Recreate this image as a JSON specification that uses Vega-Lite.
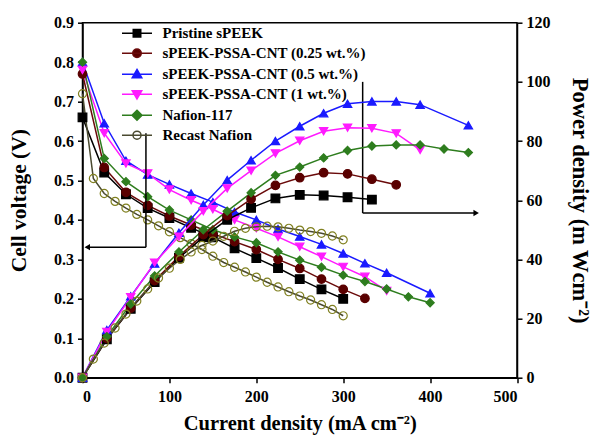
{
  "$schema": "https://vega.github.io/schema/vega-lite/v6.json",
  "autosize": {"type": "none"},
  "padding": {"left": 82.5, "top": 22.7, "right": 77, "bottom": 59.3},
  "width": 434.5,
  "height": 355,
  "background": "white",
  "config": {
    "view": {"stroke": "black", "strokeWidth": 1.5},
    "axis": {
      "grid": false, "domainColor": "black", "domainWidth": 1.5, "tickColor": "black", "tickWidth": 1.5, "tickSize": 5,
      "labelFont": "Liberation Serif", "labelFontWeight": "bold", "labelFontSize": 16, "labelColor": "black",
      "titleFont": "Liberation Serif", "titleFontWeight": "bold", "titleFontSize": 20.5, "titleColor": "black"
    },
    "legend": {"labelFont": "Liberation Serif"}
  },
  "datasets": {
    "curves": [
      {"s":"Pristine sPEEK","t":"V","x":0,"y":0.66},{"s":"Pristine sPEEK","t":"V","x":25,"y":0.52},{"s":"Pristine sPEEK","t":"V","x":50,"y":0.465},{"s":"Pristine sPEEK","t":"V","x":75,"y":0.43},{"s":"Pristine sPEEK","t":"V","x":100,"y":0.405},{"s":"Pristine sPEEK","t":"V","x":125,"y":0.38},{"s":"Pristine sPEEK","t":"V","x":150,"y":0.356},{"s":"Pristine sPEEK","t":"V","x":175,"y":0.328},{"s":"Pristine sPEEK","t":"V","x":200,"y":0.303},{"s":"Pristine sPEEK","t":"V","x":225,"y":0.278},{"s":"Pristine sPEEK","t":"V","x":250,"y":0.25},{"s":"Pristine sPEEK","t":"V","x":275,"y":0.224},{"s":"Pristine sPEEK","t":"V","x":300,"y":0.2},
      {"s":"Pristine sPEEK","t":"P","x":0,"y":0},{"s":"Pristine sPEEK","t":"P","x":28,"y":13},{"s":"Pristine sPEEK","t":"P","x":55.5,"y":23.3},{"s":"Pristine sPEEK","t":"P","x":83,"y":32.3},{"s":"Pristine sPEEK","t":"P","x":111,"y":40.5},{"s":"Pristine sPEEK","t":"P","x":139,"y":47.5},{"s":"Pristine sPEEK","t":"P","x":166.5,"y":53.4},{"s":"Pristine sPEEK","t":"P","x":194,"y":57.4},{"s":"Pristine sPEEK","t":"P","x":222,"y":60.6},{"s":"Pristine sPEEK","t":"P","x":250,"y":61.8},{"s":"Pristine sPEEK","t":"P","x":277.5,"y":61.6},{"s":"Pristine sPEEK","t":"P","x":305,"y":61},{"s":"Pristine sPEEK","t":"P","x":333,"y":60.2},

      {"s":"sPEEK-PSSA-CNT (0.25 wt.%)","t":"V","x":0,"y":0.77},{"s":"sPEEK-PSSA-CNT (0.25 wt.%)","t":"V","x":25,"y":0.533},{"s":"sPEEK-PSSA-CNT (0.25 wt.%)","t":"V","x":50,"y":0.47},{"s":"sPEEK-PSSA-CNT (0.25 wt.%)","t":"V","x":75,"y":0.437},{"s":"sPEEK-PSSA-CNT (0.25 wt.%)","t":"V","x":100,"y":0.41},{"s":"sPEEK-PSSA-CNT (0.25 wt.%)","t":"V","x":125,"y":0.387},{"s":"sPEEK-PSSA-CNT (0.25 wt.%)","t":"V","x":150,"y":0.365},{"s":"sPEEK-PSSA-CNT (0.25 wt.%)","t":"V","x":175,"y":0.345},{"s":"sPEEK-PSSA-CNT (0.25 wt.%)","t":"V","x":200,"y":0.325},{"s":"sPEEK-PSSA-CNT (0.25 wt.%)","t":"V","x":225,"y":0.3},{"s":"sPEEK-PSSA-CNT (0.25 wt.%)","t":"V","x":250,"y":0.277},{"s":"sPEEK-PSSA-CNT (0.25 wt.%)","t":"V","x":275,"y":0.25},{"s":"sPEEK-PSSA-CNT (0.25 wt.%)","t":"V","x":300,"y":0.224},{"s":"sPEEK-PSSA-CNT (0.25 wt.%)","t":"V","x":325,"y":0.201},
      {"s":"sPEEK-PSSA-CNT (0.25 wt.%)","t":"P","x":0,"y":0},{"s":"sPEEK-PSSA-CNT (0.25 wt.%)","t":"P","x":28,"y":13.3},{"s":"sPEEK-PSSA-CNT (0.25 wt.%)","t":"P","x":55.5,"y":23.5},{"s":"sPEEK-PSSA-CNT (0.25 wt.%)","t":"P","x":83,"y":32.8},{"s":"sPEEK-PSSA-CNT (0.25 wt.%)","t":"P","x":111,"y":41},{"s":"sPEEK-PSSA-CNT (0.25 wt.%)","t":"P","x":139,"y":48.4},{"s":"sPEEK-PSSA-CNT (0.25 wt.%)","t":"P","x":166.5,"y":54.8},{"s":"sPEEK-PSSA-CNT (0.25 wt.%)","t":"P","x":194,"y":60.4},{"s":"sPEEK-PSSA-CNT (0.25 wt.%)","t":"P","x":222,"y":65},{"s":"sPEEK-PSSA-CNT (0.25 wt.%)","t":"P","x":250,"y":67.6},{"s":"sPEEK-PSSA-CNT (0.25 wt.%)","t":"P","x":277.5,"y":69.3},{"s":"sPEEK-PSSA-CNT (0.25 wt.%)","t":"P","x":305,"y":68.9},{"s":"sPEEK-PSSA-CNT (0.25 wt.%)","t":"P","x":333,"y":67.1},{"s":"sPEEK-PSSA-CNT (0.25 wt.%)","t":"P","x":361,"y":65.2},

      {"s":"sPEEK-PSSA-CNT (0.5 wt.%)","t":"V","x":0,"y":0.8},{"s":"sPEEK-PSSA-CNT (0.5 wt.%)","t":"V","x":25,"y":0.645},{"s":"sPEEK-PSSA-CNT (0.5 wt.%)","t":"V","x":50,"y":0.55},{"s":"sPEEK-PSSA-CNT (0.5 wt.%)","t":"V","x":75,"y":0.515},{"s":"sPEEK-PSSA-CNT (0.5 wt.%)","t":"V","x":100,"y":0.49},{"s":"sPEEK-PSSA-CNT (0.5 wt.%)","t":"V","x":125,"y":0.467},{"s":"sPEEK-PSSA-CNT (0.5 wt.%)","t":"V","x":150,"y":0.445},{"s":"sPEEK-PSSA-CNT (0.5 wt.%)","t":"V","x":175,"y":0.42},{"s":"sPEEK-PSSA-CNT (0.5 wt.%)","t":"V","x":200,"y":0.4},{"s":"sPEEK-PSSA-CNT (0.5 wt.%)","t":"V","x":225,"y":0.377},{"s":"sPEEK-PSSA-CNT (0.5 wt.%)","t":"V","x":250,"y":0.358},{"s":"sPEEK-PSSA-CNT (0.5 wt.%)","t":"V","x":275,"y":0.338},{"s":"sPEEK-PSSA-CNT (0.5 wt.%)","t":"V","x":300,"y":0.315},{"s":"sPEEK-PSSA-CNT (0.5 wt.%)","t":"V","x":325,"y":0.29},{"s":"sPEEK-PSSA-CNT (0.5 wt.%)","t":"V","x":350,"y":0.266},{"s":"sPEEK-PSSA-CNT (0.5 wt.%)","t":"V","x":400,"y":0.214},
      {"s":"sPEEK-PSSA-CNT (0.5 wt.%)","t":"P","x":0,"y":0},{"s":"sPEEK-PSSA-CNT (0.5 wt.%)","t":"P","x":28,"y":16.1},{"s":"sPEEK-PSSA-CNT (0.5 wt.%)","t":"P","x":55.5,"y":27.5},{"s":"sPEEK-PSSA-CNT (0.5 wt.%)","t":"P","x":83,"y":38.6},{"s":"sPEEK-PSSA-CNT (0.5 wt.%)","t":"P","x":111,"y":49},{"s":"sPEEK-PSSA-CNT (0.5 wt.%)","t":"P","x":139,"y":58.4},{"s":"sPEEK-PSSA-CNT (0.5 wt.%)","t":"P","x":166.5,"y":66.8},{"s":"sPEEK-PSSA-CNT (0.5 wt.%)","t":"P","x":194,"y":73.5},{"s":"sPEEK-PSSA-CNT (0.5 wt.%)","t":"P","x":222,"y":80},{"s":"sPEEK-PSSA-CNT (0.5 wt.%)","t":"P","x":250,"y":85},{"s":"sPEEK-PSSA-CNT (0.5 wt.%)","t":"P","x":277.5,"y":89.4},{"s":"sPEEK-PSSA-CNT (0.5 wt.%)","t":"P","x":305,"y":92.6},{"s":"sPEEK-PSSA-CNT (0.5 wt.%)","t":"P","x":333,"y":93.4},{"s":"sPEEK-PSSA-CNT (0.5 wt.%)","t":"P","x":361,"y":93.4},{"s":"sPEEK-PSSA-CNT (0.5 wt.%)","t":"P","x":388.5,"y":92.3},{"s":"sPEEK-PSSA-CNT (0.5 wt.%)","t":"P","x":444,"y":85.3},

      {"s":"sPEEK-PSSA-CNT (1 wt.%)","t":"V","x":0,"y":0.78},{"s":"sPEEK-PSSA-CNT (1 wt.%)","t":"V","x":25,"y":0.62},{"s":"sPEEK-PSSA-CNT (1 wt.%)","t":"V","x":50,"y":0.543},{"s":"sPEEK-PSSA-CNT (1 wt.%)","t":"V","x":75,"y":0.518},{"s":"sPEEK-PSSA-CNT (1 wt.%)","t":"V","x":100,"y":0.477},{"s":"sPEEK-PSSA-CNT (1 wt.%)","t":"V","x":125,"y":0.45},{"s":"sPEEK-PSSA-CNT (1 wt.%)","t":"V","x":150,"y":0.427},{"s":"sPEEK-PSSA-CNT (1 wt.%)","t":"V","x":175,"y":0.4},{"s":"sPEEK-PSSA-CNT (1 wt.%)","t":"V","x":200,"y":0.379},{"s":"sPEEK-PSSA-CNT (1 wt.%)","t":"V","x":225,"y":0.357},{"s":"sPEEK-PSSA-CNT (1 wt.%)","t":"V","x":250,"y":0.332},{"s":"sPEEK-PSSA-CNT (1 wt.%)","t":"V","x":275,"y":0.307},{"s":"sPEEK-PSSA-CNT (1 wt.%)","t":"V","x":300,"y":0.281},{"s":"sPEEK-PSSA-CNT (1 wt.%)","t":"V","x":325,"y":0.256},{"s":"sPEEK-PSSA-CNT (1 wt.%)","t":"V","x":350,"y":0.22},
      {"s":"sPEEK-PSSA-CNT (1 wt.%)","t":"P","x":0,"y":0},{"s":"sPEEK-PSSA-CNT (1 wt.%)","t":"P","x":28,"y":15.5},{"s":"sPEEK-PSSA-CNT (1 wt.%)","t":"P","x":55.5,"y":27.2},{"s":"sPEEK-PSSA-CNT (1 wt.%)","t":"P","x":83,"y":38.9},{"s":"sPEEK-PSSA-CNT (1 wt.%)","t":"P","x":111,"y":47.7},{"s":"sPEEK-PSSA-CNT (1 wt.%)","t":"P","x":139,"y":56.3},{"s":"sPEEK-PSSA-CNT (1 wt.%)","t":"P","x":166.5,"y":64},{"s":"sPEEK-PSSA-CNT (1 wt.%)","t":"P","x":194,"y":70},{"s":"sPEEK-PSSA-CNT (1 wt.%)","t":"P","x":222,"y":75.8},{"s":"sPEEK-PSSA-CNT (1 wt.%)","t":"P","x":250,"y":80.1},{"s":"sPEEK-PSSA-CNT (1 wt.%)","t":"P","x":277.5,"y":83.3},{"s":"sPEEK-PSSA-CNT (1 wt.%)","t":"P","x":305,"y":84.5},{"s":"sPEEK-PSSA-CNT (1 wt.%)","t":"P","x":333,"y":84.3},{"s":"sPEEK-PSSA-CNT (1 wt.%)","t":"P","x":361,"y":82.6},{"s":"sPEEK-PSSA-CNT (1 wt.%)","t":"P","x":388.5,"y":77},

      {"s":"Nafion-117","t":"V","x":0,"y":0.8},{"s":"Nafion-117","t":"V","x":25,"y":0.556},{"s":"Nafion-117","t":"V","x":50,"y":0.497},{"s":"Nafion-117","t":"V","x":75,"y":0.459},{"s":"Nafion-117","t":"V","x":100,"y":0.425},{"s":"Nafion-117","t":"V","x":125,"y":0.4},{"s":"Nafion-117","t":"V","x":150,"y":0.375},{"s":"Nafion-117","t":"V","x":175,"y":0.357},{"s":"Nafion-117","t":"V","x":200,"y":0.342},{"s":"Nafion-117","t":"V","x":225,"y":0.319},{"s":"Nafion-117","t":"V","x":250,"y":0.298},{"s":"Nafion-117","t":"V","x":275,"y":0.28},{"s":"Nafion-117","t":"V","x":300,"y":0.26},{"s":"Nafion-117","t":"V","x":325,"y":0.244},{"s":"Nafion-117","t":"V","x":350,"y":0.225},{"s":"Nafion-117","t":"V","x":375,"y":0.205},{"s":"Nafion-117","t":"V","x":400,"y":0.19},
      {"s":"Nafion-117","t":"P","x":0,"y":0},{"s":"Nafion-117","t":"P","x":28,"y":13.9},{"s":"Nafion-117","t":"P","x":55.5,"y":24.9},{"s":"Nafion-117","t":"P","x":83,"y":34.4},{"s":"Nafion-117","t":"P","x":111,"y":42.5},{"s":"Nafion-117","t":"P","x":139,"y":50},{"s":"Nafion-117","t":"P","x":166.5,"y":56.3},{"s":"Nafion-117","t":"P","x":194,"y":62.5},{"s":"Nafion-117","t":"P","x":222,"y":68.4},{"s":"Nafion-117","t":"P","x":250,"y":71.2},{"s":"Nafion-117","t":"P","x":277.5,"y":74.3},{"s":"Nafion-117","t":"P","x":305,"y":76.8},{"s":"Nafion-117","t":"P","x":333,"y":78.3},{"s":"Nafion-117","t":"P","x":361,"y":78.7},{"s":"Nafion-117","t":"P","x":388.5,"y":78.7},{"s":"Nafion-117","t":"P","x":416,"y":77.3},{"s":"Nafion-117","t":"P","x":444,"y":76.1},

      {"s":"Recast Nafion","t":"V","x":0,"y":0.72},{"s":"Recast Nafion","t":"V","x":12.5,"y":0.505},{"s":"Recast Nafion","t":"V","x":25,"y":0.467},{"s":"Recast Nafion","t":"V","x":37.5,"y":0.447},{"s":"Recast Nafion","t":"V","x":50,"y":0.43},{"s":"Recast Nafion","t":"V","x":62.5,"y":0.414},{"s":"Recast Nafion","t":"V","x":75,"y":0.4},{"s":"Recast Nafion","t":"V","x":87.5,"y":0.385},{"s":"Recast Nafion","t":"V","x":100,"y":0.37},{"s":"Recast Nafion","t":"V","x":112.5,"y":0.355},{"s":"Recast Nafion","t":"V","x":125,"y":0.34},{"s":"Recast Nafion","t":"V","x":137.5,"y":0.325},{"s":"Recast Nafion","t":"V","x":150,"y":0.308},{"s":"Recast Nafion","t":"V","x":162.5,"y":0.292},{"s":"Recast Nafion","t":"V","x":175,"y":0.28},{"s":"Recast Nafion","t":"V","x":187.5,"y":0.268},{"s":"Recast Nafion","t":"V","x":200,"y":0.255},{"s":"Recast Nafion","t":"V","x":212.5,"y":0.242},{"s":"Recast Nafion","t":"V","x":225,"y":0.23},{"s":"Recast Nafion","t":"V","x":237.5,"y":0.218},{"s":"Recast Nafion","t":"V","x":250,"y":0.207},{"s":"Recast Nafion","t":"V","x":262.5,"y":0.197},{"s":"Recast Nafion","t":"V","x":275,"y":0.185},{"s":"Recast Nafion","t":"V","x":287.5,"y":0.173},{"s":"Recast Nafion","t":"V","x":300,"y":0.157},
      {"s":"Recast Nafion","t":"P","x":0,"y":0},{"s":"Recast Nafion","t":"P","x":12.5,"y":6.3},{"s":"Recast Nafion","t":"P","x":25,"y":11.7},{"s":"Recast Nafion","t":"P","x":37.5,"y":16.8},{"s":"Recast Nafion","t":"P","x":50,"y":21.5},{"s":"Recast Nafion","t":"P","x":62.5,"y":25.9},{"s":"Recast Nafion","t":"P","x":75,"y":30},{"s":"Recast Nafion","t":"P","x":87.5,"y":33.7},{"s":"Recast Nafion","t":"P","x":100,"y":37},{"s":"Recast Nafion","t":"P","x":112.5,"y":40},{"s":"Recast Nafion","t":"P","x":125,"y":42.5},{"s":"Recast Nafion","t":"P","x":137.5,"y":44.7},{"s":"Recast Nafion","t":"P","x":150,"y":46.2},{"s":"Recast Nafion","t":"P","x":162.5,"y":47.8},{"s":"Recast Nafion","t":"P","x":175,"y":49.5},{"s":"Recast Nafion","t":"P","x":187.5,"y":50.5},{"s":"Recast Nafion","t":"P","x":200,"y":51},{"s":"Recast Nafion","t":"P","x":212.5,"y":51.2},{"s":"Recast Nafion","t":"P","x":225,"y":51},{"s":"Recast Nafion","t":"P","x":237.5,"y":50.5},{"s":"Recast Nafion","t":"P","x":250,"y":49.9},{"s":"Recast Nafion","t":"P","x":262.5,"y":49.4},{"s":"Recast Nafion","t":"P","x":275,"y":48.8},{"s":"Recast Nafion","t":"P","x":287.5,"y":47.9},{"s":"Recast Nafion","t":"P","x":300,"y":46.6}
    ],
    "brackets": [
      {"x":73,"x2":73,"y":0.62,"y2":0.331},
      {"x":73,"x2":4,"y":0.331,"y2":0.331},
      {"x":322.4,"x2":322.4,"y":0.75,"y2":0.4176},
      {"x":322.4,"x2":452,"y":0.4176,"y2":0.4176}
    ],
    "heads": [
      {"x":5.5,"y":0.331,"dir":"L"},
      {"x":453,"y":0.4176,"dir":"R"}
    ]
  },
  "layer": [
    {
      "data": {"name": "curves"},
      "transform": [{"filter": "datum.t === 'V'"}],
      "encoding": {
        "x": {"field": "x", "type": "quantitative", "scale": {"domain": [0, 500], "nice": false},
              "axis": {"values": [0,100,200,300,400,500], "title": "Current density (mA cm⁻²)", "titlePadding": 9, "labelPadding": 6}},
        "y": {"field": "y", "type": "quantitative", "scale": {"domain": [0, 0.9], "nice": false},
              "axis": {"values": [0,0.1,0.2,0.3,0.4,0.5,0.6,0.7,0.8,0.9], "format": ".1f", "title": "Cell voltage (V)", "titlePadding": 23, "labelPadding": 4, "titleFontSize": 21.5}}
      },
      "layer": [
        {
          "mark": {"type": "line", "strokeWidth": 1.5},
          "encoding": {
            "color": {"field": "s", "type": "nominal",
              "scale": {"domain": ["Pristine sPEEK","sPEEK-PSSA-CNT (0.25 wt.%)","sPEEK-PSSA-CNT (0.5 wt.%)","sPEEK-PSSA-CNT (1 wt.%)","Nafion-117","Recast Nafion"],
                        "range": ["#000000","#6a0a0a","#1a1aff","#ff1aff","#2e7d1e","#4a4a30"]},
              "legend": {
                "title": null, "orient": "none", "legendX": 47, "legendY": 3, "padding": 0,
                "symbolSize": 100, "labelOffset": 18, "rowPadding": 4, "labelLimit": 400,
                "labelFont": "Liberation Serif", "labelFontWeight": "bold", "labelFontSize": 15, "labelColor": "black",
                "encoding": {"symbols": {
                  "shape": {"value": {"expr": "datum.value === 'Pristine sPEEK' ? 'M-3,0H3M-0.75,-0.75H0.75V0.75H-0.75Z' : datum.value === 'sPEEK-PSSA-CNT (0.25 wt.%)' ? 'M-3,0H3M-0.85,0A0.85,0.85,0,1,1,0.85,0A0.85,0.85,0,1,1,-0.85,0Z' : datum.value === 'sPEEK-PSSA-CNT (0.5 wt.%)' ? 'M-3,0H3M0,-0.95L0.95,0.7H-0.95Z' : datum.value === 'sPEEK-PSSA-CNT (1 wt.%)' ? 'M-3,0H3M0,0.95L0.95,-0.7H-0.95Z' : datum.value === 'Nafion-117' ? 'M-3,0H3M0,-1L1,0L0,1L-1,0Z' : 'M-3,0H3M-0.8,0A0.8,0.8,0,1,1,0.8,0A0.8,0.8,0,1,1,-0.8,0Z'"}},
                  "fill": {"value": {"expr": "datum.value === 'Pristine sPEEK' ? '#000000' : datum.value === 'sPEEK-PSSA-CNT (0.25 wt.%)' ? '#5a0000' : datum.value === 'sPEEK-PSSA-CNT (0.5 wt.%)' ? '#1a1aff' : datum.value === 'sPEEK-PSSA-CNT (1 wt.%)' ? '#ff1aff' : datum.value === 'Nafion-117' ? '#2e7d1e' : 'transparent'"}},
                  "size": {"value": 100},
                  "strokeWidth": {"value": 1.5},
                  "opacity": {"value": 1}
                }}
              }
            }
          }
        },
        {
          "mark": {"type": "point", "filled": true, "strokeWidth": 1.2, "opacity": 1},
          "encoding": {
            "shape": {"field": "s", "type": "nominal", "legend": null,
              "scale": {"domain": ["Recast Nafion","Nafion-117","sPEEK-PSSA-CNT (1 wt.%)","sPEEK-PSSA-CNT (0.5 wt.%)","sPEEK-PSSA-CNT (0.25 wt.%)","Pristine sPEEK"],
                        "range": ["circle","diamond","triangle-down","triangle-up","circle","square"]}},
            "stroke": {"field": "s", "type": "nominal", "legend": null,
              "scale": {"domain": ["Recast Nafion","Nafion-117","sPEEK-PSSA-CNT (1 wt.%)","sPEEK-PSSA-CNT (0.5 wt.%)","sPEEK-PSSA-CNT (0.25 wt.%)","Pristine sPEEK"],
                        "range": ["#808020","#2e7d1e","#ff1aff","#1a1aff","#5a0000","#000000"]}},
            "fill": {"field": "s", "type": "nominal", "legend": null,
              "scale": {"domain": ["Recast Nafion","Nafion-117","sPEEK-PSSA-CNT (1 wt.%)","sPEEK-PSSA-CNT (0.5 wt.%)","sPEEK-PSSA-CNT (0.25 wt.%)","Pristine sPEEK"],
                        "range": ["transparent","#2e7d1e","#ff1aff","#1a1aff","#5a0000","#000000"]}},
            "size": {"field": "s", "type": "nominal", "legend": null,
              "scale": {"domain": ["Recast Nafion","Nafion-117","sPEEK-PSSA-CNT (1 wt.%)","sPEEK-PSSA-CNT (0.5 wt.%)","sPEEK-PSSA-CNT (0.25 wt.%)","Pristine sPEEK"],
                        "range": [65, 75, 85, 85, 70, 55]}}
          }
        },
        {
          "data": {"name": "brackets"},
          "mark": {"type": "rule", "color": "black", "strokeWidth": 1.5},
          "encoding": {
            "x": {"field": "x", "type": "quantitative"},
            "x2": {"field": "x2"},
            "y": {"field": "y", "type": "quantitative"},
            "y2": {"field": "y2"}
          }
        },
        {
          "data": {"name": "heads"},
          "transform": [{"filter": "datum.dir === 'L'"}],
          "mark": {"type": "point", "shape": "triangle-left", "filled": true, "color": "black", "size": 40, "opacity": 1},
          "encoding": {
            "x": {"field": "x", "type": "quantitative"},
            "y": {"field": "y", "type": "quantitative"}
          }
        },
        {
          "data": {"name": "heads"},
          "transform": [{"filter": "datum.dir === 'R'"}],
          "mark": {"type": "point", "shape": "triangle-right", "filled": true, "color": "black", "size": 40, "opacity": 1},
          "encoding": {
            "x": {"field": "x", "type": "quantitative"},
            "y": {"field": "y", "type": "quantitative"}
          }
        }
      ]
    },
    {
      "data": {"name": "curves"},
      "transform": [{"filter": "datum.t === 'P'"}],
      "encoding": {
        "x": {"field": "x", "type": "quantitative", "scale": {"domain": [0, 500], "nice": false}},
        "y": {"field": "y", "type": "quantitative", "scale": {"domain": [0, 120], "nice": false},
              "axis": {"orient": "right", "values": [0,20,40,60,80,100,120], "title": "Power density (m Wcm⁻²)", "titlePadding": 17, "labelPadding": 4, "titleFontSize": 22.5}}
      },
      "layer": [
        {
          "mark": {"type": "line", "strokeWidth": 1.5},
          "encoding": {"color": {"field": "s", "type": "nominal", "legend": null}}
        },
        {
          "mark": {"type": "point", "filled": true, "strokeWidth": 1.2, "opacity": 1},
          "encoding": {
            "shape": {"field": "s", "type": "nominal", "legend": null},
            "stroke": {"field": "s", "type": "nominal", "legend": null},
            "fill": {"field": "s", "type": "nominal", "legend": null},
            "size": {"field": "s", "type": "nominal", "legend": null}
          }
        }
      ]
    }
  ],
  "resolve": {"scale": {"y": "independent"}}
}
